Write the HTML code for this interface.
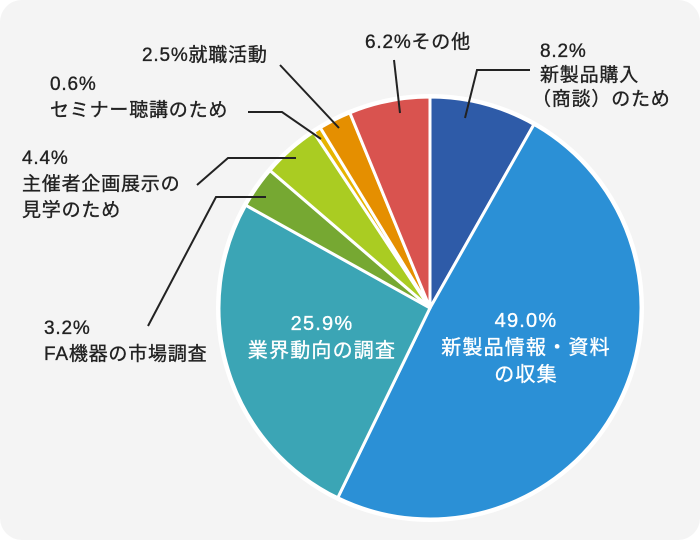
<!DOCTYPE html>
<html><head><meta charset="utf-8"><style>
html,body{margin:0;padding:0;background:#fff}
svg{display:block}
text{font-family:"Liberation Sans","Noto Sans CJK JP",sans-serif;font-size:19px;letter-spacing:0.8px;fill:#222;stroke:#222;stroke-width:0.35px}
.w{fill:#fff;stroke:#fff;font-size:20px;letter-spacing:1.2px}
</style></head><body>
<svg width="700" height="540">
<rect x="0" y="0" width="700" height="540" rx="22" fill="#f4f4f4"/>
<circle cx="430" cy="308" r="214" fill="#fff"/>
<g id="slices"></g>
<g stroke="#222" stroke-width="2" fill="none">
<polyline points="465,118 477,70 530,70"/>
<polyline points="400,113 394,60"/>
<polyline points="339,128 280,65"/>
<polyline points="321,139 282,112 248,112"/>
<polyline points="296,158 228,158 197,185"/>
<polyline points="266,197 216,197 148,326"/>
</g>
<g>
<text x="540" y="57">8.2%</text>
<text x="540" y="81">新製品購入</text>
<text x="532" y="105">（商談）のため</text>
<text x="365" y="48">6.2%その他</text>
<text x="142" y="61">2.5%就職活動</text>
<text x="50" y="90">0.6%</text>
<text x="50" y="116">セミナー聴講のため</text>
<text x="22" y="164">4.4%</text>
<text x="22" y="190">主催者企画展示の</text>
<text x="22" y="216">見学のため</text>
<text x="44" y="334">3.2%</text>
<text x="44" y="360">FA機器の市場調査</text>
<text class="w" x="322" y="330" text-anchor="middle">25.9%</text>
<text class="w" x="322" y="357" text-anchor="middle">業界動向の調査</text>
<text class="w" x="526" y="327" text-anchor="middle">49.0%</text>
<text class="w" x="526" y="354" text-anchor="middle">新製品情報・資料</text>
<text class="w" x="526" y="381" text-anchor="middle">の収集</text>
</g>
</svg>
<script>
const categories=["新製品購入","新製品情報・資料の収集","業界動向の調査","FA機器の市場調査","主催者企画展示の見学","セミナー聴講","就職活動","その他"];
const values=[8.2,49.0,25.9,3.2,4.4,0.6,2.5,6.2];
const colors=["#2e5ba8","#2b90d6","#3ba5b5","#76a832","#aacc22","#e6b400","#e58f00","#d9534f"];
const cx=430,cy=308,r=211;
const g=document.getElementById('slices');
const total=values.reduce((a,b)=>a+b,0);
let a0=0;
function pt(a){return [cx+r*Math.sin(a),cy-r*Math.cos(a)];}
values.forEach((v,i)=>{
  const a1=a0+v/total*2*Math.PI;
  const p0=pt(a0),p1=pt(a1);
  const large=(a1-a0)>Math.PI?1:0;
  const p=document.createElementNS('http://www.w3.org/2000/svg','path');
  p.setAttribute('d',`M${cx},${cy}L${p0[0]},${p0[1]}A${r},${r} 0 ${large} 1 ${p1[0]},${p1[1]}Z`);
  p.setAttribute('fill',colors[i]);
  p.setAttribute('stroke','#fff');
  p.setAttribute('stroke-width','3');
  p.setAttribute('stroke-linejoin','round');
  
  
  g.appendChild(p);
  a0=a1;
});
</script>
</body></html>
